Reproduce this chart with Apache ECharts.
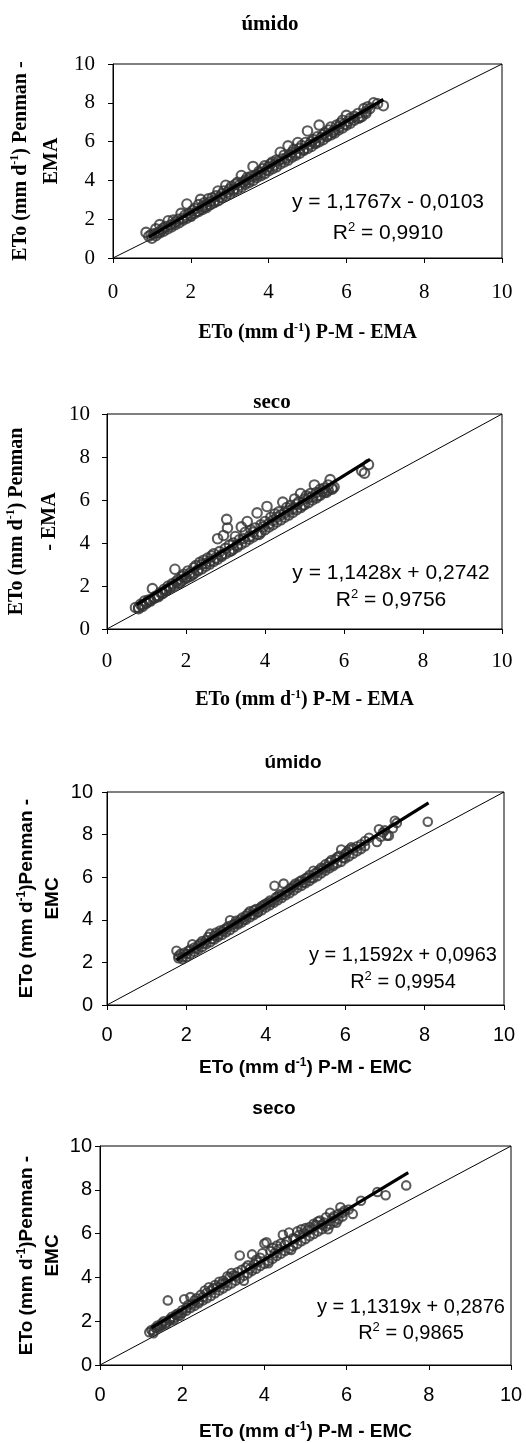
<!DOCTYPE html>
<html>
<head>
<meta charset="utf-8">
<script src="https://cdn.jsdelivr.net/npm/echarts@6/dist/echarts.min.js"></script>
<style>
html, body { margin: 0; padding: 0; background: #fff; }
#chart { width: 526px; height: 1443px; }
</style>
</head>
<body>
<div id="chart"></div>
<script>
var axisTicks = [0, 2, 4, 6, 8, 10];
var titles = ['úmido', 'seco', 'úmido', 'seco'];
var equations = ['y = 1,1767x - 0,0103', 'y = 1,1428x + 0,2742', 'y = 1,1592x + 0,0963', 'y = 1,1319x + 0,2876'];
var r2Values = ['0,9910', '0,9756', '0,9954', '0,9865'];

// pontos (x = P-M, y = Penman)
var umidoEma = [[0.85,1.32],[0.92,1.12],[0.98,1.2],[1.05,1.25],[1.1,1.5],[1.15,1.3],[1.2,1.72],[1.25,1.45],[1.3,1.55],[1.35,1.62],
  [1.42,1.92],[1.48,1.7],[1.55,1.95],[1.6,1.85],[1.68,2.0],[1.75,2.3],[1.8,2.05],[1.85,2.2],[1.9,2.78],[1.95,2.3],
  [2.0,2.18],[2.05,2.45],[2.1,2.55],[2.15,2.4],[2.2,2.75],[2.25,3.02],[2.3,2.65],[2.35,2.85],[2.4,2.75],[2.45,3.05],
  [2.5,2.9],[2.55,3.1],[2.6,2.95],[2.65,3.2],[2.7,3.45],[2.75,3.15],[2.8,3.3],[2.85,3.45],[2.9,3.75],[2.95,3.4],
  [3.0,3.55],[3.05,3.7],[3.1,3.55],[3.15,3.8],[3.2,3.9],[3.25,3.75],[3.3,4.25],[3.35,3.9],[3.4,4.0],[3.45,4.15],
  [3.5,4.05],[3.55,4.2],[3.6,4.72],[3.65,4.25],[3.7,4.3],[3.75,4.45],[3.8,4.4],[3.85,4.6],[3.9,4.75],[3.95,4.55],
  [4.0,4.7],[4.05,4.85],[4.1,4.95],[4.15,4.8],[4.2,5.05],[4.25,5.0],[4.3,5.45],[4.35,5.1],[4.4,5.3],[4.45,5.15],
  [4.5,5.78],[4.55,5.3],[4.6,5.45],[4.65,5.6],[4.7,5.4],[4.75,5.95],[4.8,5.65],[4.85,5.8],[4.9,5.6],[4.95,5.95],
  [5.0,6.55],[5.05,5.85],[5.1,6.0],[5.15,6.1],[5.2,5.95],[5.25,6.25],[5.3,6.85],[5.35,6.2],[5.4,6.35],[5.45,6.45],
  [5.5,6.3],[5.55,6.6],[5.6,6.75],[5.65,6.5],[5.7,6.6],[5.75,6.85],[5.8,6.75],[5.85,6.95],[5.9,7.1],[5.95,6.9],
  [6.0,7.35],[6.05,7.05],[6.1,7.2],[6.2,7.3],[6.3,7.45],[6.35,7.25],[6.45,7.7],[6.5,7.55],[6.55,7.8],[6.6,7.7],
  [6.7,8.0],[6.8,7.95],[6.95,7.85]];
var umidoEmaLow = [[1.0,1.02],[1.1,1.15],[1.2,1.3],[1.3,1.38],[1.4,1.5],[1.5,1.6],[1.6,1.72],[1.7,1.82],[1.8,1.95],[1.9,2.05],
  [2.0,2.15],[2.1,2.3],[2.2,2.4],[2.3,2.5],[2.4,2.6],[2.5,2.75],[2.6,2.85],[2.7,2.95],[2.8,3.1],[2.9,3.2],
  [3.0,3.3],[3.1,3.45],[3.2,3.55],[3.3,3.65],[3.4,3.8],[3.5,3.9],[3.6,4.0],[3.7,4.15],[3.8,4.25],[3.9,4.35],
  [4.0,4.5],[4.1,4.6],[4.2,4.7],[4.3,4.85],[4.4,4.95],[4.5,5.05],[4.6,5.2],[4.7,5.3],[4.8,5.4],[4.9,5.55],
  [5.0,5.65],[5.1,5.75],[5.2,5.9],[5.3,6.0],[5.4,6.1],[5.5,6.25],[5.6,6.35],[5.7,6.45],[5.8,6.6],[5.9,6.7],
  [6.0,6.85],[6.1,6.95],[6.2,7.1],[6.3,7.2],[6.4,7.3],[6.5,7.45]];

var secoEma = [[0.72,1.0],[0.8,0.95],[0.85,1.15],[0.9,1.05],[0.95,1.3],[1.0,1.2],[1.05,1.35],[1.1,1.3],[1.15,1.88],[1.2,1.45],
  [1.25,1.55],[1.3,1.5],[1.35,1.7],[1.4,1.65],[1.45,1.85],[1.5,1.8],[1.55,2.0],[1.6,1.95],[1.65,2.1],[1.72,2.78],
  [1.75,2.2],[1.8,2.3],[1.85,2.15],[1.9,2.45],[1.95,2.55],[2.0,2.4],[2.05,2.7],[2.1,2.6],[2.15,2.5],[2.2,2.85],
  [2.25,2.95],[2.3,2.75],[2.35,3.1],[2.4,3.0],[2.45,3.2],[2.5,3.05],[2.55,3.3],[2.6,3.15],[2.65,3.4],[2.7,3.5],
  [2.75,3.3],[2.8,4.2],[2.85,3.6],[2.9,3.45],[2.95,4.35],[3.0,3.75],[3.03,5.1],[3.05,4.7],[3.1,3.9],[3.15,3.65],
  [3.2,4.0],[3.25,4.3],[3.3,3.9],[3.35,4.15],[3.4,4.75],[3.45,4.2],[3.5,4.5],[3.55,5.0],[3.6,4.3],[3.65,4.6],
  [3.7,4.5],[3.75,4.7],[3.8,5.4],[3.85,4.4],[3.9,4.85],[3.95,4.75],[4.0,5.0],[4.05,5.7],[4.1,4.9],[4.15,5.2],
  [4.2,5.05],[4.25,5.35],[4.3,5.2],[4.35,5.45],[4.4,5.3],[4.45,5.9],[4.5,5.4],[4.55,5.65],[4.6,5.5],[4.65,5.75],
  [4.7,5.6],[4.75,6.05],[4.8,5.8],[4.85,5.9],[4.9,6.3],[4.95,5.75],[5.0,6.05],[5.05,6.2],[5.1,6.1],[5.15,6.3],
  [5.2,6.15],[5.25,6.7],[5.3,6.35],[5.35,6.2],[5.4,6.5],[5.45,6.4],[5.5,6.55],[5.55,6.35],[5.6,6.7],[5.65,6.95],
  [5.7,6.5],[5.75,6.6],[6.45,7.35],[6.52,7.25],[6.62,7.65]];
var secoEmaLow = [[0.8,1.0],[0.9,1.12],[1.0,1.22],[1.1,1.35],[1.2,1.45],[1.3,1.55],[1.4,1.68],[1.5,1.8],[1.6,1.9],[1.7,2.0],
  [1.8,2.12],[1.9,2.25],[2.0,2.35],[2.1,2.45],[2.2,2.58],[2.3,2.7],[2.4,2.8],[2.5,2.92],[2.6,3.02],[2.7,3.15],
  [2.8,3.25],[2.9,3.38],[3.0,3.5],[3.1,3.6],[3.2,3.72],[3.3,3.82],[3.4,3.95],[3.5,4.05],[3.6,4.18],[3.7,4.28],
  [3.8,4.4],[3.9,4.5],[4.0,4.62],[4.1,4.75],[4.2,4.85],[4.3,4.98],[4.4,5.08],[4.5,5.2],[4.6,5.3],[4.7,5.42],
  [4.8,5.55],[4.9,5.65],[5.0,5.78],[5.1,5.88],[5.2,6.0],[5.3,6.1],[5.4,6.22],[5.5,6.35],[5.6,6.45],[5.7,6.55]];

var umidoEmc = [[1.75,2.55],[1.8,2.3],[1.85,2.4],[1.9,2.25],[1.95,2.45],[2.0,2.4],[2.05,2.55],[2.1,2.6],[2.15,2.85],[2.2,2.7],
  [2.25,2.65],[2.3,2.8],[2.35,2.9],[2.4,3.0],[2.45,2.9],[2.5,3.05],[2.55,3.2],[2.6,3.35],[2.65,3.1],[2.7,3.25],
  [2.75,3.4],[2.8,3.3],[2.85,3.5],[2.9,3.45],[2.95,3.55],[3.0,3.6],[3.05,3.7],[3.1,3.98],[3.15,3.75],[3.2,3.8],
  [3.25,3.95],[3.3,3.85],[3.35,4.0],[3.4,4.1],[3.45,4.0],[3.5,4.2],[3.55,4.3],[3.6,4.4],[3.65,4.25],[3.7,4.45],
  [3.75,4.5],[3.8,4.35],[3.85,4.55],[3.9,4.65],[3.95,4.7],[4.0,4.75],[4.05,4.8],[4.1,4.9],[4.15,4.85],[4.22,5.6],
  [4.25,5.05],[4.3,5.1],[4.35,5.2],[4.4,5.15],[4.45,5.7],[4.5,5.3],[4.55,5.35],[4.6,5.45],[4.65,5.5],[4.7,5.6],
  [4.75,5.7],[4.8,5.65],[4.85,5.8],[4.9,5.85],[4.95,5.75],[5.0,5.95],[5.05,6.0],[5.1,6.1],[5.15,5.95],[5.2,6.3],
  [5.25,6.2],[5.3,6.25],[5.35,6.35],[5.4,6.45],[5.45,6.4],[5.5,6.6],[5.55,6.5],[5.6,6.7],[5.65,6.8],[5.7,6.6],
  [5.75,6.85],[5.8,6.95],[5.85,7.0],[5.9,7.3],[5.95,6.9],[6.0,7.1],[6.05,7.2],[6.1,7.3],[6.15,7.4],[6.2,7.35],
  [6.3,7.45],[6.4,7.55],[6.5,7.7],[6.6,7.85],[6.8,7.65],[6.85,8.25],[6.9,7.9],[6.95,8.1],[7.0,8.2],[7.1,7.95],
  [7.2,8.3],[7.25,8.65],[7.3,8.55],[8.08,8.6]];
var umidoEmcLow = [[1.8,2.2],[1.9,2.15],[2.0,2.25],[2.1,2.38],[2.2,2.5],[2.3,2.6],[2.4,2.72],[2.5,2.85],[2.6,2.95],[2.7,3.08],
  [2.8,3.2],[2.9,3.3],[3.0,3.42],[3.1,3.52],[3.2,3.65],[3.3,3.78],[3.4,3.88],[3.5,4.0],[3.6,4.12],[3.7,4.22],
  [3.8,4.35],[3.9,4.45],[4.0,4.58],[4.1,4.68],[4.2,4.8],[4.3,4.92],[4.4,5.02],[4.5,5.15],[4.6,5.25],[4.7,5.38],
  [4.8,5.5],[4.9,5.6],[5.0,5.72],[5.1,5.82],[5.2,5.95],[5.3,6.05],[5.4,6.18],[5.5,6.3],[5.6,6.42],[5.7,6.52],
  [5.8,6.65],[5.9,6.72],[6.0,6.88],[6.1,6.98],[6.2,7.1],[6.3,7.22],[6.4,7.32],[6.5,7.45],[7.05,7.95]];

var secoEmc = [[1.2,1.5],[1.25,1.6],[1.3,1.45],[1.35,1.7],[1.4,1.8],[1.45,1.75],[1.5,1.9],[1.55,2.0],[1.6,1.85],[1.65,2.95],
  [1.7,2.1],[1.75,2.2],[1.8,2.05],[1.85,2.3],[1.9,2.35],[1.95,2.25],[2.0,2.5],[2.05,3.0],[2.1,2.6],[2.15,2.75],
  [2.2,3.1],[2.25,2.8],[2.3,2.95],[2.35,3.05],[2.4,2.9],[2.45,3.2],[2.5,3.1],[2.55,3.4],[2.6,3.3],[2.65,3.55],
  [2.7,3.4],[2.75,3.5],[2.8,3.65],[2.85,3.55],[2.9,3.8],[2.95,3.7],[3.0,3.85],[3.05,3.75],[3.1,4.05],[3.15,4.0],
  [3.2,4.2],[3.25,4.1],[3.3,4.05],[3.35,4.25],[3.4,5.0],[3.45,4.35],[3.5,3.85],[3.55,4.45],[3.6,4.55],[3.65,4.4],
  [3.7,5.05],[3.75,4.6],[3.8,4.8],[3.85,4.7],[3.9,4.9],[3.95,5.1],[4.0,5.55],[4.05,5.6],[4.1,4.65],[4.15,5.2],
  [4.2,5.35],[4.25,5.1],[4.3,5.45],[4.35,5.3],[4.4,5.55],[4.45,5.95],[4.5,5.5],[4.55,5.65],[4.6,6.05],[4.65,5.25],
  [4.7,5.8],[4.75,5.75],[4.8,6.1],[4.85,5.95],[4.9,6.2],[4.95,6.0],[5.0,6.25],[5.05,6.15],[5.1,6.3],[5.15,6.2],
  [5.2,6.45],[5.25,6.4],[5.3,6.55],[5.35,6.6],[5.4,6.4],[5.45,6.5],[5.5,6.75],[5.55,6.2],[5.6,6.95],[5.65,6.7],
  [5.7,6.8],[5.75,6.5],[5.8,6.9],[5.85,7.2],[5.9,6.95],[5.95,7.05],[6.05,7.1],[6.15,6.9],[6.35,7.5],[6.75,7.9],
  [6.95,7.75],[7.45,8.2]];
var secoEmcLow = [[1.3,1.55],[1.4,1.68],[1.5,1.8],[1.6,1.92],[1.7,2.02],[1.8,2.15],[1.9,2.25],[2.0,2.38],[2.1,2.48],[2.2,2.6],
  [2.3,2.7],[2.4,2.82],[2.5,2.95],[2.6,3.05],[2.7,3.15],[2.8,3.28],[2.9,3.4],[3.0,3.5],[3.1,3.62],[3.2,3.72],
  [3.3,3.85],[3.4,3.95],[3.5,4.08],[3.6,4.18],[3.7,4.3],[3.8,4.4],[3.9,4.52],[4.0,4.62],[4.1,4.75],[4.2,4.85],
  [4.3,4.98],[4.4,5.08],[4.5,5.2],[4.6,5.3],[4.7,5.42],[4.8,5.52],[4.9,5.65],[5.0,5.75],[5.1,5.88],[5.2,5.98],
  [5.3,6.1],[5.4,6.2],[5.5,6.32],[5.6,6.42],[5.7,6.55],[5.8,6.65],[5.9,6.78]];

// extremos das retas de regressão
var fitUmidoEma = [[0.92, 1.07], [6.95, 8.17]];
var fitSecoEma = [[0.75, 1.13], [6.66, 7.89]];
var fitUmidoEmc = [[1.75, 2.12], [8.1, 9.49]];
var fitSecoEmc = [[1.25, 1.7], [7.5, 8.78]];
var diagonal = [[0, 0], [10, 10]];

var SERIF = "'Liberation Serif', 'Times New Roman', serif";
var SANS = "'Liberation Sans', Arial, sans-serif";

var panels = [
  { pts: umidoEma.concat(umidoEmaLow), fit: fitUmidoEma, font: SERIF, tickSize: 21, nameSize: 20, titleSize: 21,
    grid: { left: 113, top: 64, width: 389, height: 194 },
    xMargin: 24, yMargin: 18, titleX: 270, titleY: 25,
    yName: '{n|ETo (mm d}{s|-1}{n|) Penman -}\n{n|EMA}', yNameX: 36, lh: 31,
    xName: '{n|ETo (mm d}{s|-1}{n|) P-M - EMA}', xNameY: 333, eqX: 388, eqY: 202, r2Y: 233, eqSize: 21, sym: 9.5 },
  { pts: secoEma.concat(secoEmaLow), fit: fitSecoEma, font: SERIF, tickSize: 21, nameSize: 20, titleSize: 21,
    grid: { left: 107, top: 414, width: 395, height: 215 },
    xMargin: 22, yMargin: 17, titleX: 272, titleY: 403,
    yName: '{n|ETo (mm d}{s|-1}{n|) Penman}\n{n|- EMA}', yNameX: 33, lh: 33,
    xName: '{n|ETo (mm d}{s|-1}{n|) P-M - EMA}', xNameY: 700, eqX: 391, eqY: 573, r2Y: 600, eqSize: 21, sym: 9.5 },
  { pts: umidoEmc.concat(umidoEmcLow), fit: fitUmidoEmc, font: SANS, tickSize: 20, nameSize: 19, titleSize: 19,
    grid: { left: 107, top: 792, width: 397, height: 213 },
    xMargin: 20, yMargin: 14, titleX: 293, titleY: 763,
    yName: '{n|ETo (mm d}{s|-1}{n|)Penman -}\n{n|EMC}', yNameX: 40, lh: 26,
    xName: '{n|ETo (mm d}{s|-1}{n|) P-M - EMC}', xNameY: 1068, eqX: 403, eqY: 955, r2Y: 982, eqSize: 20, sym: 8.5 },
  { pts: secoEmc.concat(secoEmcLow), fit: fitSecoEmc, font: SANS, tickSize: 20, nameSize: 19, titleSize: 19,
    grid: { left: 100, top: 1146, width: 411, height: 219 },
    xMargin: 20, yMargin: 8, titleX: 274, titleY: 1109,
    yName: '{n|ETo (mm d}{s|-1}{n|)Penman -}\n{n|EMC}', yNameX: 40, lh: 26,
    xName: '{n|ETo (mm d}{s|-1}{n|) P-M - EMC}', xNameY: 1432, eqX: 411, eqY: 1307, r2Y: 1333, eqSize: 20, sym: 8.5 }
];

var grids = [], xAxes = [], yAxes = [], series = [], graphics = [];

panels.forEach(function (p, i) {
  var cx = p.grid.left + p.grid.width / 2;
  var cy = p.grid.top + p.grid.height / 2;
  grids.push({ left: p.grid.left, top: p.grid.top, width: p.grid.width, height: p.grid.height,
    show: true, borderColor: '#000', borderWidth: 1, containLabel: false });

  var axisCommon = {
    type: 'value', gridIndex: i, min: axisTicks[0], max: axisTicks[axisTicks.length - 1], interval: 2,
    axisLine: { show: true, onZero: false, lineStyle: { color: '#000', width: 1 } },
    axisTick: { show: true, length: 5, lineStyle: { color: '#000' } },
    splitLine: { show: false }
  };
  xAxes.push(Object.assign({}, axisCommon, { position: 'bottom',
    axisLabel: { margin: p.xMargin, color: '#000', fontSize: p.tickSize, fontFamily: p.font } }));
  yAxes.push(Object.assign({}, axisCommon, { position: 'left',
    axisLabel: { margin: p.yMargin, color: '#000', fontSize: p.tickSize, fontFamily: p.font } }));

  series.push({ type: 'line', xAxisIndex: i, yAxisIndex: i, data: diagonal, showSymbol: false, silent: true,
    lineStyle: { color: '#000', width: 1 }, z: 1 });
  series.push({ type: 'scatter', xAxisIndex: i, yAxisIndex: i, data: p.pts, symbol: 'circle', symbolSize: p.sym,
    silent: true, itemStyle: { color: 'rgba(0,0,0,0)', borderColor: '#333', borderWidth: 2.1 }, z: 2 });
  series.push({ type: 'line', xAxisIndex: i, yAxisIndex: i, data: p.fit, showSymbol: false, silent: true,
    lineStyle: { color: '#000', width: 3.2 }, z: 3 });

  var nameRich = {
    n: { fontSize: p.nameSize, fontWeight: 'bold', fontFamily: p.font, color: '#000', lineHeight: p.lh },
    s: { fontSize: 12, fontWeight: 'bold', fontFamily: p.font, color: '#000', padding: [0, 0, 11, 0] }
  };
  graphics.push({ type: 'text', x: p.titleX, y: p.titleY,
    style: { text: titles[i], font: 'bold ' + p.titleSize + 'px ' + p.font, fill: '#000', align: 'center', verticalAlign: 'middle' } });
  graphics.push({ type: 'text', x: p.yNameX, y: cy, rotation: Math.PI / 2,
    style: { text: p.yName, rich: nameRich, align: 'center', verticalAlign: 'middle' } });
  graphics.push({ type: 'text', x: cx, y: p.xNameY,
    style: { text: p.xName, rich: nameRich, align: 'center', verticalAlign: 'middle' } });

  var eqRich = {
    e: { fontSize: p.eqSize, fontFamily: SANS, color: '#000' },
    s: { fontSize: 13, fontFamily: SANS, color: '#000', padding: [0, 0, 11, 0] }
  };
  graphics.push({ type: 'text', x: p.eqX, y: p.eqY,
    style: { text: '{e|' + equations[i] + '}', rich: eqRich, align: 'center', verticalAlign: 'middle' } });
  graphics.push({ type: 'text', x: p.eqX, y: p.r2Y,
    style: { text: '{e|R}{s|2}{e| = ' + r2Values[i] + '}', rich: eqRich, align: 'center', verticalAlign: 'middle' } });
});

var myChart = echarts.init(document.getElementById('chart'), null, { renderer: 'canvas' });
myChart.setOption({
  animation: false,
  backgroundColor: '#fff',
  grid: grids,
  xAxis: xAxes,
  yAxis: yAxes,
  series: series,
  graphic: graphics
});
</script>
</body>
</html>
